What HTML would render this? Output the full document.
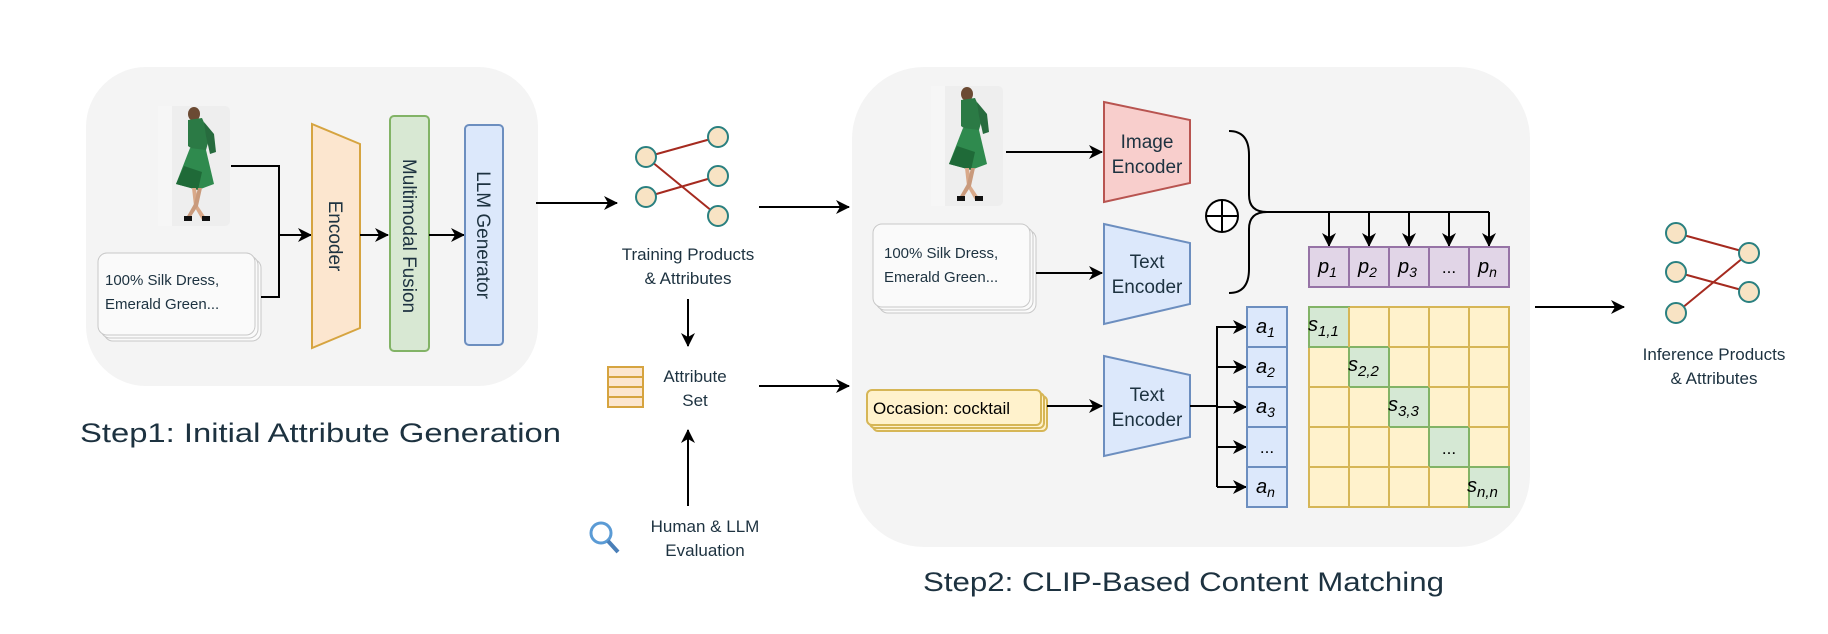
<!DOCTYPE html>
<html><head><meta charset="utf-8"><style>
html,body{margin:0;padding:0;background:#fff;}
svg{display:block;}
text{font-family:"Liberation Sans",sans-serif;fill:#1d3240;}
.m{font-family:"Liberation Sans",sans-serif;font-style:italic;fill:#000;}
</style></head><body>
<svg width="1828" height="634" viewBox="0 0 1828 634" xmlns="http://www.w3.org/2000/svg">
<defs>
<marker id="ar" markerWidth="14" markerHeight="14" refX="13" refY="7" orient="auto" markerUnits="userSpaceOnUse">
<path d="M0,0 L14,7 L0,14 L4,7 Z" fill="#000"/></marker>
<g id="dress">
<rect x="0" y="0" width="72" height="120" rx="5" fill="#eeeeee"/>
<rect x="0" y="0" width="14" height="120" fill="#f6f6f6"/>
<ellipse cx="36" cy="8" rx="6" ry="7" fill="#6b4a33"/>
<path d="M30,14 L44,12 L52,30 L48,44 L38,46 L30,40 Z" fill="#2b7a45"/>
<path d="M46,16 L56,28 L58,46 L52,48 L48,30 Z" fill="#276b3e"/>
<path d="M32,42 L48,44 L56,78 L40,84 L18,78 Z" fill="#2f8a4e"/>
<path d="M26,60 L44,66 L40,84 L18,78 Z" fill="#1f6a38"/>
<path d="M34,82 L38,82 L40,100 L48,112 L44,114 L36,100 Z" fill="#d9a98a"/>
<path d="M40,82 L44,82 L40,100 L32,112 L28,112 L36,98 Z" fill="#c99a7c"/>
<rect x="26" y="110" width="8" height="5" fill="#111"/><rect x="44" y="110" width="8" height="5" fill="#111"/>
</g>
</defs>

<rect x="86" y="67" width="452" height="319" rx="60" fill="#f4f4f4"/>
<rect x="852" y="67" width="678" height="480" rx="72" fill="#f4f4f4"/>

<use href="#dress" x="158" y="106"/>
<rect x="104" y="259" width="157" height="82" rx="9" fill="#fafafa" stroke="#c8c8c8"/>
<rect x="101" y="256" width="157" height="82" rx="9" fill="#fafafa" stroke="#c8c8c8"/>
<rect x="98" y="253" width="157" height="82" rx="9" fill="#fafafa" stroke="#c8c8c8"/>
<text x="105" y="285" font-size="15">100% Silk Dress,</text>
<text x="105" y="309" font-size="15">Emerald Green...</text>
<path d="M231,166 H279 V297 H261" fill="none" stroke="#000" stroke-width="2"/>
<line x1="279" y1="235" x2="311" y2="235" stroke="#000" stroke-width="2" marker-end="url(#ar)"/>
<polygon points="312,124 360,144 360,328 312,348" fill="#fce6cf" stroke="#d6a440" stroke-width="2"/>
<text font-size="19" transform="translate(329,236) rotate(90)" text-anchor="middle">Encoder</text>
<line x1="360" y1="235" x2="388" y2="235" stroke="#000" stroke-width="2" marker-end="url(#ar)"/>
<rect x="390" y="116" width="39" height="235" rx="4" fill="#d8e8d3" stroke="#82b366" stroke-width="2"/>
<text font-size="19" transform="translate(403,236) rotate(90)" text-anchor="middle">Multimodal Fusion</text>
<line x1="429" y1="235" x2="464" y2="235" stroke="#000" stroke-width="2" marker-end="url(#ar)"/>
<rect x="465" y="125" width="38" height="220" rx="4" fill="#dce8fb" stroke="#6c8ebf" stroke-width="2"/>
<text font-size="19" transform="translate(477,235) rotate(90)" text-anchor="middle">LLM Generator</text>
<text x="80" y="442" font-size="27" textLength="481" lengthAdjust="spacingAndGlyphs">Step1: Initial Attribute Generation</text>

<line x1="536" y1="203" x2="617" y2="203" stroke="#000" stroke-width="2" marker-end="url(#ar)"/>
<g stroke="#a52a1f" stroke-width="2">
<line x1="646" y1="157" x2="718" y2="137"/><line x1="646" y1="157" x2="718" y2="216"/><line x1="646" y1="197" x2="718" y2="176"/>
</g>
<g fill="#f8e3c4" stroke="#2a8080" stroke-width="2">
<circle cx="646" cy="157" r="10"/><circle cx="646" cy="197" r="10"/>
<circle cx="718" cy="137" r="10"/><circle cx="718" cy="176" r="10"/><circle cx="718" cy="216" r="10"/>
</g>
<text x="688" y="260" font-size="17" text-anchor="middle">Training Products</text>
<text x="688" y="284" font-size="17" text-anchor="middle">&amp; Attributes</text>
<line x1="759" y1="207" x2="849" y2="207" stroke="#000" stroke-width="2" marker-end="url(#ar)"/>
<line x1="688" y1="299" x2="688" y2="346" stroke="#000" stroke-width="2" marker-end="url(#ar)"/>
<g fill="#fce6cf" stroke="#d6a440" stroke-width="2">
<rect x="608" y="367" width="35" height="10"/><rect x="608" y="377" width="35" height="10"/><rect x="608" y="387" width="35" height="10"/><rect x="608" y="397" width="35" height="10"/>
</g>
<text x="695" y="382" font-size="17" text-anchor="middle">Attribute</text>
<text x="695" y="406" font-size="17" text-anchor="middle">Set</text>
<line x1="759" y1="386" x2="849" y2="386" stroke="#000" stroke-width="2" marker-end="url(#ar)"/>
<line x1="688" y1="506" x2="688" y2="430" stroke="#000" stroke-width="2" marker-end="url(#ar)"/>
<circle cx="601" cy="533" r="10" fill="none" stroke="#5b9bd5" stroke-width="3"/>
<line x1="608" y1="541" x2="618" y2="552" stroke="#4a7fb8" stroke-width="4"/>
<text x="705" y="532" font-size="17" text-anchor="middle">Human &amp; LLM</text>
<text x="705" y="556" font-size="17" text-anchor="middle">Evaluation</text>

<use href="#dress" x="931" y="86"/>
<line x1="1006" y1="152" x2="1102" y2="152" stroke="#000" stroke-width="2" marker-end="url(#ar)"/>
<rect x="879" y="230" width="157" height="83" rx="9" fill="#fafafa" stroke="#c8c8c8"/>
<rect x="876" y="227" width="157" height="83" rx="9" fill="#fafafa" stroke="#c8c8c8"/>
<rect x="873" y="224" width="157" height="83" rx="9" fill="#fafafa" stroke="#c8c8c8"/>
<text x="884" y="258" font-size="15">100% Silk Dress,</text>
<text x="884" y="282" font-size="15">Emerald Green...</text>
<line x1="1036" y1="273" x2="1102" y2="273" stroke="#000" stroke-width="2" marker-end="url(#ar)"/>
<rect x="873" y="396" width="174" height="35" rx="5" fill="#fff2cc" stroke="#d6b656" stroke-width="2"/>
<rect x="870" y="393" width="174" height="35" rx="5" fill="#fff2cc" stroke="#d6b656" stroke-width="2"/>
<rect x="867" y="390" width="174" height="35" rx="5" fill="#fff2cc" stroke="#d6b656" stroke-width="2"/>
<text x="873" y="414" font-size="17" style="fill:#000">Occasion: cocktail</text>
<line x1="1047" y1="406" x2="1102" y2="406" stroke="#000" stroke-width="2" marker-end="url(#ar)"/>

<polygon points="1104,102 1190,120 1190,183 1104,202" fill="#f8cecc" stroke="#b85450" stroke-width="2"/>
<text x="1147" y="148" font-size="19" text-anchor="middle">Image</text>
<text x="1147" y="173" font-size="19" text-anchor="middle">Encoder</text>
<polygon points="1104,224 1190,243 1190,304 1104,324" fill="#dce8fb" stroke="#6c8ebf" stroke-width="2"/>
<text x="1147" y="268" font-size="19" text-anchor="middle">Text</text>
<text x="1147" y="293" font-size="19" text-anchor="middle">Encoder</text>
<polygon points="1104,356 1190,375 1190,437 1104,456" fill="#dce8fb" stroke="#6c8ebf" stroke-width="2"/>
<text x="1147" y="401" font-size="19" text-anchor="middle">Text</text>
<text x="1147" y="426" font-size="19" text-anchor="middle">Encoder</text>

<circle cx="1222" cy="216" r="16" fill="#fff" stroke="#000" stroke-width="2"/>
<line x1="1206" y1="216" x2="1238" y2="216" stroke="#000" stroke-width="2"/>
<line x1="1222" y1="200" x2="1222" y2="232" stroke="#000" stroke-width="2"/>
<path d="M1229,131 Q1249,131 1249,155 V195 Q1249,212 1267,212 Q1249,212 1249,229 V269 Q1249,293 1229,293" fill="none" stroke="#000" stroke-width="2"/>
<line x1="1267" y1="212" x2="1489" y2="212" stroke="#000" stroke-width="2"/>
<g stroke="#000" stroke-width="2">
<line x1="1329" y1="212" x2="1329" y2="246" marker-end="url(#ar)"/>
<line x1="1369" y1="212" x2="1369" y2="246" marker-end="url(#ar)"/>
<line x1="1409" y1="212" x2="1409" y2="246" marker-end="url(#ar)"/>
<line x1="1449" y1="212" x2="1449" y2="246" marker-end="url(#ar)"/>
<line x1="1489" y1="212" x2="1489" y2="246" marker-end="url(#ar)"/>
</g>
<g fill="#e1d5e7" stroke="#9673a6" stroke-width="2">
<rect x="1309" y="247" width="40" height="40"/><rect x="1349" y="247" width="40" height="40"/><rect x="1389" y="247" width="40" height="40"/><rect x="1429" y="247" width="40" height="40"/><rect x="1469" y="247" width="40" height="40"/>
</g>
<text class="m" x="1318" y="273" font-size="20">p<tspan font-size="14" dy="4">1</tspan></text>
<text class="m" x="1358" y="273" font-size="20">p<tspan font-size="14" dy="4">2</tspan></text>
<text class="m" x="1398" y="273" font-size="20">p<tspan font-size="14" dy="4">3</tspan></text>
<text x="1449" y="273" font-size="17" text-anchor="middle" style="fill:#000">...</text>
<text class="m" x="1478" y="273" font-size="20">p<tspan font-size="14" dy="4">n</tspan></text>

<line x1="1190" y1="406" x2="1217" y2="406" stroke="#000" stroke-width="2"/>
<line x1="1217" y1="326" x2="1217" y2="487" stroke="#000" stroke-width="2"/>
<g stroke="#000" stroke-width="2">
<line x1="1217" y1="327" x2="1246" y2="327" marker-end="url(#ar)"/>
<line x1="1217" y1="367" x2="1246" y2="367" marker-end="url(#ar)"/>
<line x1="1217" y1="407" x2="1246" y2="407" marker-end="url(#ar)"/>
<line x1="1217" y1="447" x2="1246" y2="447" marker-end="url(#ar)"/>
<line x1="1217" y1="487" x2="1246" y2="487" marker-end="url(#ar)"/>
</g>
<g fill="#dce8fb" stroke="#6c8ebf" stroke-width="2">
<rect x="1247" y="307" width="40" height="40"/><rect x="1247" y="347" width="40" height="40"/><rect x="1247" y="387" width="40" height="40"/><rect x="1247" y="427" width="40" height="40"/><rect x="1247" y="467" width="40" height="40"/>
</g>
<text class="m" x="1256" y="333" font-size="20">a<tspan font-size="14" dy="4">1</tspan></text>
<text class="m" x="1256" y="373" font-size="20">a<tspan font-size="14" dy="4">2</tspan></text>
<text class="m" x="1256" y="413" font-size="20">a<tspan font-size="14" dy="4">3</tspan></text>
<text x="1267" y="453" font-size="17" text-anchor="middle" style="fill:#000">...</text>
<text class="m" x="1256" y="493" font-size="20">a<tspan font-size="14" dy="4">n</tspan></text>

<rect x="1309" y="307" width="200" height="200" fill="#fff2cc" stroke="#d6b656" stroke-width="2"/>
<g fill="#d5e8d4" stroke="#82b366" stroke-width="2">
<rect x="1309" y="307" width="40" height="40"/><rect x="1349" y="347" width="40" height="40"/><rect x="1389" y="387" width="40" height="40"/><rect x="1429" y="427" width="40" height="40"/><rect x="1469" y="467" width="40" height="40"/>
</g>
<g stroke="#d6b656" stroke-width="2">
<line x1="1349" y1="307" x2="1349" y2="347"/><line x1="1349" y1="387" x2="1349" y2="507"/>
<line x1="1389" y1="307" x2="1389" y2="347"/><line x1="1389" y1="427" x2="1389" y2="507"/>
<line x1="1429" y1="307" x2="1429" y2="387"/><line x1="1429" y1="467" x2="1429" y2="507"/>
<line x1="1469" y1="307" x2="1469" y2="427"/>
<line x1="1389" y1="347" x2="1509" y2="347"/>
<line x1="1309" y1="387" x2="1349" y2="387"/><line x1="1429" y1="387" x2="1509" y2="387"/>
<line x1="1309" y1="427" x2="1389" y2="427"/><line x1="1469" y1="427" x2="1509" y2="427"/>
<line x1="1309" y1="467" x2="1429" y2="467"/>
</g>
<text class="m" x="1308" y="331" font-size="20">s<tspan font-size="15" dy="5">1,1</tspan></text>
<text class="m" x="1348" y="371" font-size="20">s<tspan font-size="15" dy="5">2,2</tspan></text>
<text class="m" x="1388" y="411" font-size="20">s<tspan font-size="15" dy="5">3,3</tspan></text>
<text x="1449" y="454" font-size="17" text-anchor="middle" style="fill:#000">...</text>
<text class="m" x="1467" y="492" font-size="20">s<tspan font-size="15" dy="5">n,n</tspan></text>

<line x1="1535" y1="307" x2="1624" y2="307" stroke="#000" stroke-width="2" marker-end="url(#ar)"/>
<g stroke="#a52a1f" stroke-width="2">
<line x1="1676" y1="233" x2="1749" y2="253"/><line x1="1676" y1="272" x2="1749" y2="292"/><line x1="1676" y1="313" x2="1749" y2="253"/>
</g>
<g fill="#f8e3c4" stroke="#2a8080" stroke-width="2">
<circle cx="1676" cy="233" r="10"/><circle cx="1676" cy="272" r="10"/><circle cx="1676" cy="313" r="10"/>
<circle cx="1749" cy="253" r="10"/><circle cx="1749" cy="292" r="10"/>
</g>
<text x="1714" y="360" font-size="17" text-anchor="middle">Inference Products</text>
<text x="1714" y="384" font-size="17" text-anchor="middle">&amp; Attributes</text>

<text x="923" y="591" font-size="27" textLength="521" lengthAdjust="spacingAndGlyphs">Step2: CLIP-Based Content Matching</text>
</svg>
</body></html>
